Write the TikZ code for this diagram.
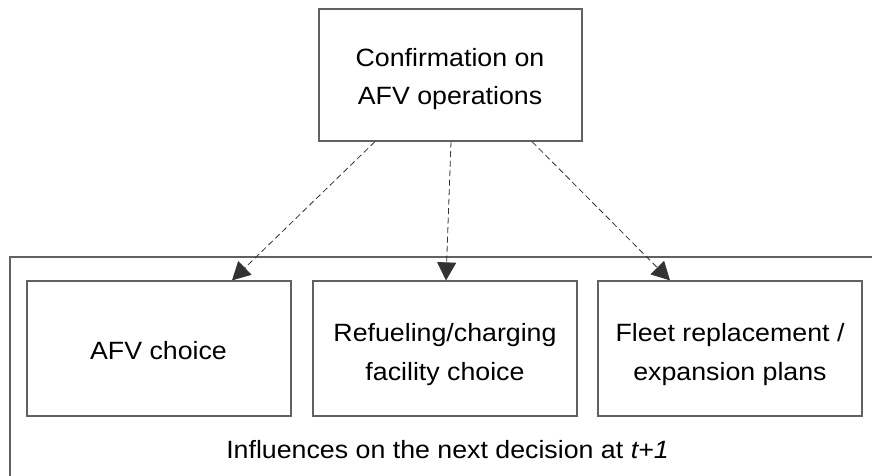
\documentclass[tikz,border=0pt]{standalone}
\usepackage{fontspec}
\setmainfont{Liberation Sans}[FakeStretch=1.07]
\usetikzlibrary{arrows.meta}
\begin{document}
\begin{tikzpicture}[x=1pt,y=-1pt,
  box/.style={draw=black!62,line width=1.2pt,fill=white,inner sep=0pt},
  txt/.style={anchor=base,inner sep=0pt,font=\fontsize{25}{30}\selectfont},
  link/.style={draw=black!80,line width=0.8pt,dash pattern=on 6pt off 3.5pt,
    -{Triangle[length=18pt,width=19pt]}}]
\useasboundingbox (0,0) rectangle (872,476);
\begin{scope}
\clip (0,0) rectangle (872,476);
\draw[draw=black!62,line width=1.2pt] (880,257) -- (10,257) -- (10,490);
\end{scope}
\node[box,minimum width=263pt,minimum height=132pt] (conf) at (450.5,75) {};
\node[box,minimum width=264pt,minimum height=135pt] (afv) at (159,348.5) {};
\node[box,minimum width=264pt,minimum height=135pt] (ref) at (445,348.5) {};
\node[box,minimum width=264pt,minimum height=135pt] (fleet) at (730,348.5) {};
\node[txt] (conf1) at (450,66.7) {Confirmation on};
\node[txt] (conf2) at (450,105) {AFV operations};
\node[txt] (afvt) at (158.5,359.3) {AFV choice};
\node[txt] (ref1) at (445,341.7) {Refueling/charging};
\node[txt] (ref2) at (445,380) {facility choice};
\node[txt] (fleet1) at (730,341.7) {Fleet replacement /};
\node[txt] (fleet2) at (730,380) {expansion plans};
\node[txt] (infl) at (447.5,458) {Influences on the next decision at \textit{t+1}};
\draw[link] (conf.south -| 375,0) -- (afv.north -| 232,0);
\draw[link] (conf.south -| 451,0) -- (ref.north -| 446,0);
\draw[link] (conf.south -| 532,0) -- (fleet.north -| 670,0);
\end{tikzpicture}
\end{document}
